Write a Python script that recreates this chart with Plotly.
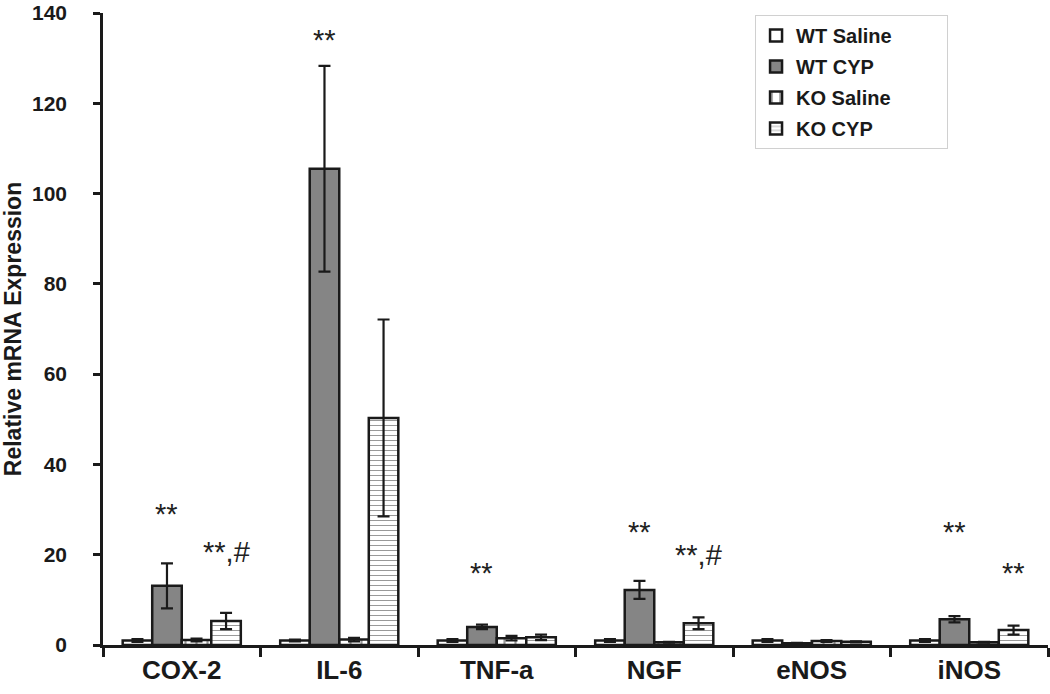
import plotly.graph_objects as go

genes = ["COX-2", "IL-6", "TNF-a", "NGF", "eNOS", "iNOS"]

wt_saline = [1.0, 1.0, 1.0, 1.0, 1.0, 1.0]
wt_saline_err = [0.3, 0.2, 0.3, 0.3, 0.3, 0.3]
wt_cyp = [13.1, 105.5, 4.0, 12.2, 0.4, 5.7]
wt_cyp_err = [5.0, 22.8, 0.5, 2.0, 0.1, 0.7]
ko_saline = [1.1, 1.2, 1.5, 0.6, 0.9, 0.6]
ko_saline_err = [0.3, 0.4, 0.5, 0.1, 0.2, 0.1]
ko_cyp = [5.3, 50.3, 1.7, 4.8, 0.7, 3.3]
ko_cyp_err = [1.8, 21.8, 0.6, 1.3, 0.1, 1.0]

# significance marks: (gene index, bar index, text, y)
marks = [
    (0, 1, "**", 29), (0, 3, "**,#", 20.5),
    (1, 1, "**", 134),
    (2, 1, "**", 16),
    (3, 1, "**", 25), (3, 3, "**,#", 20),
    (5, 1, "**", 25), (5, 3, "**", 16),
]

font = "Liberation Sans, Arial, sans-serif"
pad = "\u00a0" * 9  # widen legend box on the right

series = [
    ("WT Saline", wt_saline, wt_saline_err, "white", ""),
    ("WT CYP", wt_cyp, wt_cyp_err, "#858585", ""),
    ("KO Saline", ko_saline, ko_saline_err, "white", "|"),
    ("KO CYP", ko_cyp, ko_cyp_err, "white", "-"),
]

fig = go.Figure()
for i, (name, vals, errs, fill, shape) in enumerate(series):
    pattern = dict(shape=shape, fgcolor="#333333", bgcolor="white",
                   size=11 if shape == "|" else 5, solidity=0.2) if shape else None
    fig.add_trace(go.Bar(
        x=genes, y=vals, name=name + pad, legendgroup=name,
        marker=dict(color=fill, line=dict(color="#1a1a1a", width=2.5),
                    pattern=pattern),
        error_y=dict(type="data", array=errs, color="#1a1a1a", thickness=2.2, width=6),
    ))

bw = 0.75 / 4
for g, b, txt, y in marks:
    fig.add_annotation(x=g + (b - 1.5) * bw, y=y, text=txt, showarrow=False,
                       font=dict(family=font, size=29, color="#222"))

fig.update_layout(
    width=1050, height=694,
    margin=dict(l=103, r=2, t=13, b=49),
    plot_bgcolor="white", paper_bgcolor="white",
    barmode="group", bargap=0.25, bargroupgap=0,
    font=dict(family=font, color="#1a1a1a"),
    legend=dict(x=0.69, y=0.997, xanchor="left", yanchor="top",
                bgcolor="white", bordercolor="#d0d0d0", borderwidth=1,
                font=dict(size=20, weight="bold"), tracegroupgap=2,
                traceorder="grouped"),
    xaxis=dict(showline=True, linecolor="#1a1a1a", linewidth=2.5,
               ticks="outside", ticklen=9, tickwidth=2.5, tickcolor="#1a1a1a",
               tickson="boundaries", showgrid=False, automargin=False,
               tickfont=dict(size=26, weight="bold")),
    yaxis=dict(range=[0, 140], dtick=20, showline=True, linecolor="#1a1a1a",
               linewidth=2.5, ticks="outside", ticklen=7, tickwidth=2.5,
               tickcolor="#1a1a1a", showgrid=False, zeroline=False,
               automargin=False, ticklabelstandoff=22, ticklabeloverflow="allow",
               tickfont=dict(size=21, weight="bold"),
               title=dict(text="Relative mRNA Expression", standoff=8,
                          font=dict(size=23, weight="bold"))),
)

fig.write_html("out.html", config={"displayModeBar": False},
               post_script="document.body.style.margin='0';")
